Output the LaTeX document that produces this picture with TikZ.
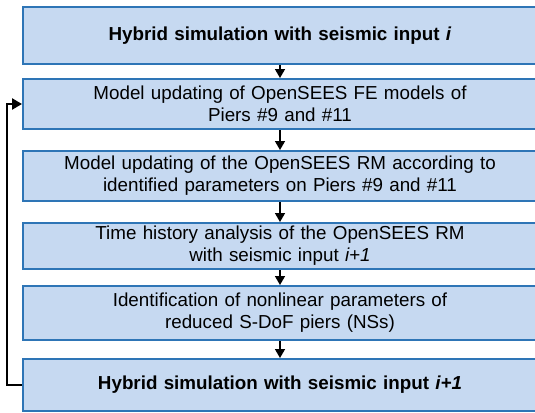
\documentclass[tikz,border=0pt]{standalone}
\usepackage{fontspec}
\setmainfont{Liberation Sans}
\usetikzlibrary{arrows.meta}
\definecolor{boxfill}{HTML}{C6D9F1}
\definecolor{boxline}{HTML}{2E75B6}
\begin{document}
\begin{tikzpicture}[x=1pt,y=-1pt,
  box/.style={draw=boxline, fill=boxfill, line width=2pt, rectangle,
    minimum width=514pt, text width=500pt, align=center, inner sep=0pt,
    font=\fontsize{18.8}{22}\selectfont},
  arr/.style={line width=1.6pt, -{Triangle[width=10pt,length=9pt]}},
  fb/.style={line width=2.5pt, -{Triangle[width=11pt,length=10pt]}}]
\useasboundingbox (0,0) rectangle (535,412);
\clip (0,0) rectangle (535,412);
\node[box, minimum height=57pt] (b1) at (280,35.5) {\textbf{Hybrid simulation with seismic input \textit{i}}};
\node[box, minimum height=50pt] (b2) at (280,104) {Model updating of OpenSEES FE models of\\Piers \#9 and \#11};
\node[box, minimum height=50pt] (b3) at (280,176) {Model updating of the OpenSEES RM according to\\identified parameters on Piers \#9 and \#11};
\node[box, minimum height=46pt] (b4) at (280,246) {Time history analysis of the OpenSEES RM\\with seismic input \textit{i+1}};
\node[box, minimum height=54pt] (b5) at (280,313) {Identification of nonlinear parameters of\\reduced S-DoF piers (NSs)};
\node[box, minimum height=52pt] (b6) at (280,385) {\textbf{Hybrid simulation with seismic input \textit{i+1}}};
\draw[arr] (b1) -- (b2);
\draw[arr] (b2) -- (b3);
\draw[arr] (b3) -- (b4);
\draw[arr] (b4) -- (b5);
\draw[arr] (b5) -- (b6);
\draw[fb] (b6.west) -- ++(-15,0) |- (b2.west);
\end{tikzpicture}
\end{document}
